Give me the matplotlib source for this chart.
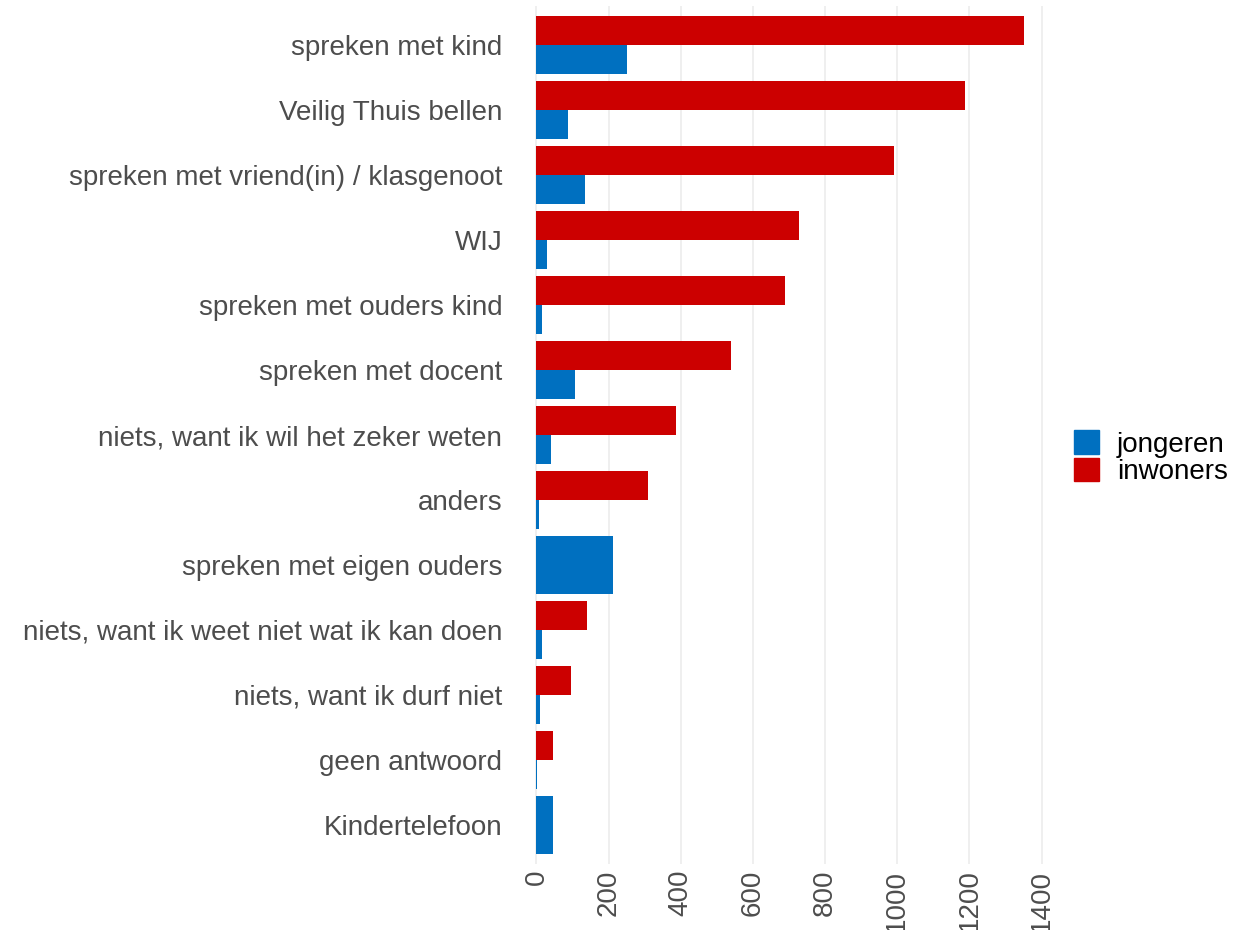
import numpy as np
import matplotlib.pyplot as plt
from matplotlib.patches import Patch

plt.rcParams['font.family'] = ['Liberation Sans', 'DejaVu Sans']

categories = [
    "spreken met kind",
    "Veilig Thuis bellen",
    "spreken met vriend(in) / klasgenoot",
    "WIJ",
    "spreken met ouders kind",
    "spreken met docent",
    "niets, want ik wil het zeker weten",
    "anders",
    "spreken met eigen ouders",
    "niets, want ik weet niet wat ik kan doen",
    "niets, want ik durf niet",
    "geen antwoord",
    "Kindertelefoon",
]
jongeren = [252, 88, 136, 30, 16, 108, 41, 8, 213, 16, 10, 2, 47]
inwoners = [1352, 1187, 990, 728, 688, 540, 388, 308, 0, 141, 97, 47, 0]

blue = "#0070C0"
red = "#CC0000"

fig = plt.figure(figsize=(12.53, 9.30), dpi=100)
ax = fig.add_axes([0.4086, 0.071, 0.4284, 0.9225])

n = len(categories)
ypos = np.arange(n)[::-1]
w = 0.45
for y, j, r in zip(ypos, jongeren, inwoners):
    if r == 0:
        # no inwoners bar: jongeren takes the full slot (like ggplot dodge)
        ax.barh(y, j, height=2 * w, color=blue, zorder=2)
    else:
        ax.barh(y + w / 2, r, height=w, color=red, zorder=2)
        ax.barh(y - w / 2, j, height=w, color=blue, zorder=2)

xmax = max(inwoners)
ax.set_xlim(-0.05 * xmax, 1.05 * xmax)
ax.set_ylim(-0.6, n - 1 + 0.6)
ax.set_xticks(np.arange(0, 1401, 200))
ax.set_yticks(ypos)
ax.set_yticklabels(categories)
ax.tick_params(axis="both", length=0, labelsize=20, colors="#4d4d4d", pad=4)
ax.tick_params(axis="y", pad=7)
ax.tick_params(axis="x", labelrotation=90)
ax.grid(axis="x", color="#ebebeb", linewidth=1.1, zorder=0)
for s in ax.spines.values():
    s.set_visible(False)

handles = [Patch(color=blue), Patch(color=red)]
fig.legend(handles, ["jongeren", "inwoners"], loc="center left",
           bbox_to_anchor=(0.857, 0.508), frameon=False, fontsize=20,
           handlelength=0.9, handleheight=0.9, handletextpad=0.65,
           labelspacing=0.0, borderaxespad=0, borderpad=0)

fig.savefig("out.png", dpi=100)
